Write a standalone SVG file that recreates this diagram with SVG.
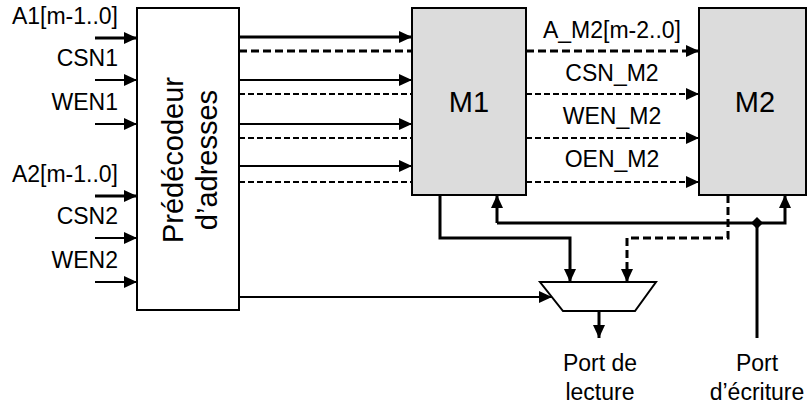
<svg xmlns="http://www.w3.org/2000/svg" width="808" height="407" viewBox="0 0 808 407">
<defs>
<style>
text{font-family:"Liberation Sans",Arial,sans-serif;fill:#000}
.lbl{font-size:23px}
.big{font-size:29px}
.box{stroke:#000;stroke-width:2}
.w{fill:#fff}
.g{fill:#dcdcdc}
.ln{fill:none;stroke:#000;stroke-width:2}
.tk{fill:none;stroke:#000;stroke-width:3}
.d1{fill:none;stroke:#000;stroke-width:2;stroke-dasharray:6,3}
.d2{fill:none;stroke:#000;stroke-width:3;stroke-dasharray:8,4}
</style>
<marker id="ah" markerUnits="userSpaceOnUse" markerWidth="13" markerHeight="12" refX="13" refY="6" orient="auto">
<path d="M0,0 L13,6 L0,12 z" fill="#000"/>
</marker>
</defs>

<g id="predecodeur">
<rect class="box w" x="137" y="8" width="102" height="302"/>
<text class="big" text-anchor="middle" transform="translate(183,160) rotate(-90)">Prédécodeur<tspan x="0" dy="34">d’adresses</tspan></text>
</g>

<g id="M1">
<rect class="box g" x="412" y="8" width="114" height="187"/>
<text class="big" x="469" y="112" text-anchor="middle">M1</text>
</g>

<g id="M2">
<rect class="box g" x="699" y="8" width="107" height="187"/>
<text class="big" x="755" y="112" text-anchor="middle">M2</text>
</g>

<g id="mux">
<path class="box w" d="M540,282 L656,282 L635,311 L563,311 z"/>
</g>

<g id="labels">
<text class="lbl" x="118" y="24" text-anchor="end">A1[m-1..0]</text>
<text class="lbl" x="118" y="66" text-anchor="end">CSN1</text>
<text class="lbl" x="118" y="110" text-anchor="end">WEN1</text>
<text class="lbl" x="118" y="182" text-anchor="end">A2[m-1..0]</text>
<text class="lbl" x="118" y="224" text-anchor="end">CSN2</text>
<text class="lbl" x="118" y="268" text-anchor="end">WEN2</text>
<text class="lbl" x="612" y="38" text-anchor="middle">A_M2[m-2..0]</text>
<text class="lbl" x="612" y="81" text-anchor="middle">CSN_M2</text>
<text class="lbl" x="612" y="124" text-anchor="middle">WEN_M2</text>
<text class="lbl" x="612" y="167" text-anchor="middle">OEN_M2</text>
<text class="lbl" x="600" y="371" text-anchor="middle">Port de</text>
<text class="lbl" x="600" y="400" text-anchor="middle">lecture</text>
<text class="lbl" x="757" y="371" text-anchor="middle">Port</text>
<text class="lbl" x="757" y="400" text-anchor="middle">d’écriture</text>
</g>

<g id="connectors">
<line class="tk" x1="95" y1="38" x2="137" y2="38" marker-end="url(#ah)"/>
<line class="ln" x1="95" y1="80" x2="137" y2="80" marker-end="url(#ah)"/>
<line class="ln" x1="95" y1="124" x2="137" y2="124" marker-end="url(#ah)"/>
<line class="tk" x1="95" y1="196" x2="137" y2="196" marker-end="url(#ah)"/>
<line class="ln" x1="95" y1="238" x2="137" y2="238" marker-end="url(#ah)"/>
<line class="ln" x1="95" y1="282" x2="137" y2="282" marker-end="url(#ah)"/>
<line class="tk" x1="239" y1="37" x2="412" y2="37" marker-end="url(#ah)"/>
<line class="d2" x1="239" y1="51" x2="411" y2="51"/>
<line class="ln" x1="239" y1="80" x2="412" y2="80" marker-end="url(#ah)"/>
<line class="d1" x1="239" y1="94" x2="411" y2="94"/>
<line class="ln" x1="239" y1="124" x2="412" y2="124" marker-end="url(#ah)"/>
<line class="d1" x1="239" y1="138" x2="411" y2="138"/>
<line class="ln" x1="239" y1="166" x2="412" y2="166" marker-end="url(#ah)"/>
<line class="d1" x1="239" y1="182" x2="411" y2="182"/>
<line class="d2" x1="526" y1="51" x2="699" y2="51" marker-end="url(#ah)"/>
<line class="d1" x1="526" y1="94" x2="699" y2="94" marker-end="url(#ah)"/>
<line class="d1" x1="526" y1="138" x2="699" y2="138" marker-end="url(#ah)"/>
<line class="d1" x1="526" y1="182" x2="699" y2="182" marker-end="url(#ah)"/>
<path class="tk" d="M440,195 L440,238 L570,238 L570,282" marker-end="url(#ah)"/>
<path class="d2" d="M728,195 L728,238 L627,238 L627,282" marker-end="url(#ah)"/>
<path class="tk" d="M497,223 L497,195" marker-end="url(#ah)"/>
<path class="tk" d="M497,223 L785,223 L785,195" marker-end="url(#ah)"/>
<line class="tk" x1="757" y1="223" x2="757" y2="338"/>
<path d="M757,217 L763,223 L757,229 L751,223 z" fill="#000"/>
<line class="ln" x1="239" y1="297" x2="552" y2="297" marker-end="url(#ah)"/>
<line class="tk" x1="599" y1="311" x2="599" y2="338" marker-end="url(#ah)"/>
</g>
</svg>
